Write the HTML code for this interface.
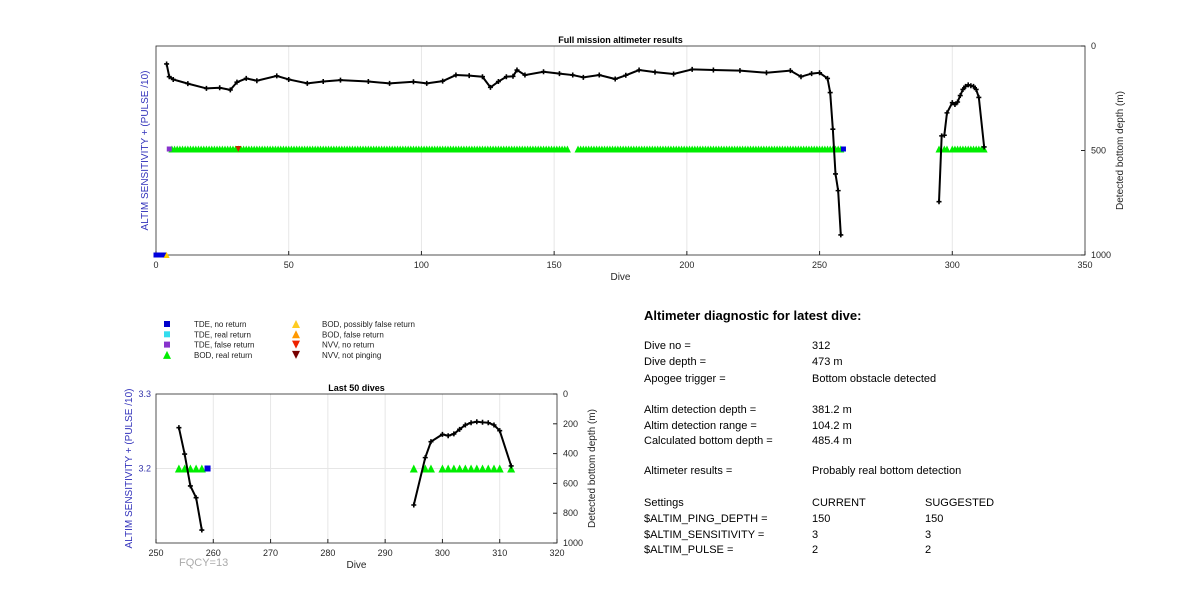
<!DOCTYPE html>
<html><head><meta charset="utf-8"><style>
body{margin:0;background:#fff;width:1200px;height:611px;overflow:hidden;font-family:"Liberation Sans",Arial,sans-serif}
svg{position:absolute;left:0;top:0}
.t{font-size:11px;fill:#000}
.tk{font-size:9px;fill:#262626}
</style></head><body>
<svg id="chart" width="1200" height="611" xmlns="http://www.w3.org/2000/svg"></svg>
<script>
// ---- Top chart data ----
const topDepthDives = [4,5,6.5,12,19,24,28,30.5,34,38,45.5,50,57,63,69.5,80,88,97,102,108,113,118,123,126,129,132,134.5,136,139,146,152,157,161,167,173,177,182,188,195,202,210,220,230,239,243,247,250,253,254,255,256,257,258];
const topDepthVals  = [86,147,160,180,203,200,210,173,155,166,143,160,179,170,163,170,179,171,179,168,139,142,147,198,170,147,145,115,139,123,132,139,150,139,158,140,115,125,134,112,115,118,128,118,147,132,128,155,223,398,612,692,904];
const topDepthDives2 = [295,296,297,298,300,301,302,303,304,305,306,307,308,309,310,312];
const topDepthVals2  = [745,430,427,320,271,280,268,237,208,193,186,190,193,208,246,483];
const bodRanges = [[6,155],[159,258],[295,295],[297,298],[300,312]];
const tdeNoReturnDives = [0,1,2,3,259];
const tdeNoReturnVals = [0,0,0,0,3.2];
const tdeFalseDives = [5]; const tdeFalseVals=[3.2];
const bodPossFalseDives=[4]; const bodPossFalseVals=[0];
const nvvNoReturnDives=[31]; const nvvNoReturnVals=[3.2];
const topXTicks=[0,50,100,150,200,250,300,350];
const topYTicks=[0,500,1000];
// ---- Bottom chart data ----
const botDepthDivesA=[254,255,256,257,258];
const botDepthValsA=[226,403,617,696,913];
const botDepthDivesB=[295,297,298,300,301,302,303,304,305,306,307,308,309,310,312];
const botDepthValsB=[745,427,320,271,280,268,237,208,193,186,190,193,208,246,483];
const botBodDives=[254,255,256,257,258,295,297,298,300,301,302,303,304,305,306,307,308,309,310,312];
const botBodVals=[3.2,3.2,3.2,3.2,3.2,3.2,3.2,3.2,3.2,3.2,3.2,3.2,3.2,3.2,3.2,3.2,3.2,3.2,3.2,3.2];
const botTdeDives=[259]; const botTdeVals=[3.2];
const botXTicks=[250,260,270,280,290,300,310,320];
const botYTicks=[0,200,400,600,800,1000];
const botLTicks=[3.2,3.3];

const S=document.getElementById('chart');const NS='http://www.w3.org/2000/svg';
function mk(tag,at,parent,txt){const e=document.createElementNS(NS,tag);for(const k in at)e.setAttribute(k,at[k]);if(txt!==undefined)e.textContent=txt;(parent||S).appendChild(e);return e;}
function tri(g,x,y,s,col,down){const p=down?`${x-s},${y-s} ${x+s},${y-s} ${x},${y+s}`:`${x-s},${y+s} ${x+s},${y+s} ${x},${y-s}`;return mk('polygon',{points:p,fill:col},g);}
function plus(g,x,y){mk('path',{d:`M${x-2.5},${y}H${x+2.5}M${x},${y-2.5}V${y+2.5}`,stroke:'#000','stroke-width':1.6},g);}

function panel(o){
 const g=mk('g',{});
 const X=d=>o.x0+(d-o.xmin)/(o.xmax-o.xmin)*(o.x1-o.x0);
 const YD=v=>o.y0+v/1000*(o.y1-o.y0);
 const YL=v=>o.y1-(v-o.lmin)/(o.lmax-o.lmin)*(o.y1-o.y0);
 o.xt.forEach(t=>{if(t>o.xmin&&t<o.xmax){const l=mk('line',{x1:X(t),x2:X(t),y1:o.y0,y2:o.y1,stroke:'#e6e6e6'},g);}});
 if(o.hgrid)o.hgrid.forEach(v=>{mk('line',{x1:o.x0,x2:o.x1,y1:YL(v),y2:YL(v),stroke:'#e6e6e6'},g);});
 const ax=mk('rect',{x:o.x0,y:o.y0,width:o.x1-o.x0,height:o.y1-o.y0,fill:'none',stroke:'#262626','stroke-width':0.8},g);
 
 o.xt.forEach(t=>{const e=mk('text',{x:X(t),y:o.y1+13,'text-anchor':'middle',class:'tk'},g,t);mk('line',{x1:X(t),x2:X(t),y1:o.y1,y2:o.y1-4,stroke:'#262626'},g);});
 o.yt.forEach(t=>{const e=mk('text',{x:o.x1+6,y:YD(t)+3,class:'tk'},g,t);mk('line',{x1:o.x1,x2:o.x1-4,y1:YD(t),y2:YD(t),stroke:'#262626'},g);});
 if(o.lt)o.lt.forEach(t=>{const e=mk('text',{x:o.x0-5,y:YL(t)+3,'text-anchor':'end',class:'tk',fill:'#3333aa',style:'fill:#3333aa'},g,t.toFixed(1));});
 // BOD markers
 const mg=mk('g',{},g);
 o.bod.forEach(([d,v])=>{const t=tri(mg,X(d),YL(v),o.ms,'#00ee00',false);});
 o.sq.forEach(([d,v,c])=>{const r=mk('rect',{x:X(d)-o.ms+1,y:YL(v)-o.ms+1,width:2*o.ms-2,height:2*o.ms-2,fill:c},g);});
 (o.tris||[]).forEach(([d,v,c,dn])=>{const t=tri(g,X(d),YL(v),o.ms-0.5,c,dn);});
 o.lines.forEach(([ds,vs])=>{const pts=ds.map((d,i)=>X(d)+','+YD(vs[i])).join(' ');const pl=mk('polyline',{points:pts,fill:'none',stroke:'#000','stroke-width':2},g);ds.forEach((d,i)=>plus(g,X(d),YD(vs[i])));});
 const tt=mk('text',{x:(o.x0+o.x1)/2,y:o.y0-3,'text-anchor':'middle',style:'font-size:9px;font-weight:bold'},g,o.title);
 const xl=mk('text',{x:(o.x0+o.x1)/2,y:o.y1+25,'text-anchor':'middle',class:'tk',style:'font-size:10px'},g,'Dive');
 const rx=o.x1+o.rlab,ry=(o.y0+o.y1)/2;const rl=mk('text',{x:rx,y:ry,'text-anchor':'middle',transform:`rotate(-90 ${rx} ${ry})`,class:'tk',style:'font-size:10px'},g,'Detected bottom depth (m)');
 const lx=o.x0-o.llab;const ll=mk('text',{x:lx,y:ry,'text-anchor':'middle',transform:`rotate(-90 ${lx} ${ry})`,style:'font-size:10px;fill:#3333bb'},g,'ALTIM SENSITIVITY + (PULSE /10)');
 return g;
}
const topBod=[];bodRanges.forEach(([a,b])=>{for(let d=a;d<=b;d++)topBod.push([d,3.2]);});
panel({name:'full-mission-chart',title:'Full mission altimeter results',x0:156,x1:1085,y0:46,y1:255,xmin:0,xmax:350,lmin:0,lmax:6.31,xt:topXTicks,yt:topYTicks,ms:3.5,rlab:38,llab:8,
 bod:topBod,
 sq:tdeNoReturnDives.map((d,i)=>[d,tdeNoReturnVals[i],'#0000dd']).concat(tdeFalseDives.map((d,i)=>[d,tdeFalseVals[i],'#8833cc'])),
 tris:bodPossFalseDives.map((d,i)=>[d,bodPossFalseVals[i],'#ffcc00',false]).concat(nvvNoReturnDives.map((d,i)=>[d,nvvNoReturnVals[i],'#cc2200',true])),
 lines:[[topDepthDives,topDepthVals],[topDepthDives2,topDepthVals2]]});
panel({name:'last-50-dives-chart',title:'Last 50 dives',x0:156,x1:557,y0:394,y1:543,xmin:250,xmax:320,lmin:3.1,lmax:3.3,xt:botXTicks,yt:botYTicks,lt:botLTicks,hgrid:[3.2],ms:4,rlab:38,llab:24,
 bod:botBodDives.map((d,i)=>[d,botBodVals[i]]),
 sq:botTdeDives.map((d,i)=>[d,botTdeVals[i],'#0000dd']),
 lines:[[botDepthDivesA,botDepthValsA],[botDepthDivesB,botDepthValsB]]});
const fq=mk('text',{x:179,y:566,style:'font-size:11px;fill:#aaaaaa'},S,'FQCY=13');

// legend
const lg=mk('g',{});
const legL=[['sq','#0000cc','TDE, no return'],['sq','#33ddee','TDE, real return'],['sq','#8833cc','TDE, false return'],['up','#00ee00','BOD, real return']];
const legR=[['up','#ffcc22','BOD, possibly false return'],['up','#ff9900','BOD, false return'],['dn','#ee2200','NVV, no return'],['dn','#770000','NVV, not pinging']];
[[legL,167,194],[legR,296,322]].forEach(([arr,mx,tx])=>arr.forEach(([k,c,l],i)=>{const y=324+i*10.3;const e=mk('g',{},lg);
 if(k==='sq')mk('rect',{x:mx-3,y:y-3,width:6,height:6,fill:c},e);else tri(e,mx,y,4,c,k==='dn');
 mk('text',{x:tx,y:y+3,style:'font-size:8px;fill:#222'},e,l);}));

// diagnostics
const dg=mk('g',{});
const h=mk('text',{x:644,y:320,style:'font-size:13px;font-weight:bold'},dg,'Altimeter diagnostic for latest dive:');
const rows=[[349,'Dive no =','312'],[365,'Dive depth =','473 m'],[382,'Apogee trigger =','Bottom obstacle detected'],[413,'Altim detection depth =','381.2 m'],[429,'Altim detection range =','104.2 m'],[444,'Calculated bottom depth =','485.4 m'],[474,'Altimeter results =','Probably real bottom detection'],[506,'Settings','CURRENT','SUGGESTED'],[522,'$ALTIM_PING_DEPTH =','150','150'],[538,'$ALTIM_SENSITIVITY =','3','3'],[553,'$ALTIM_PULSE =','2','2']];
rows.forEach(([y,a,b,c])=>{const r=mk('g',{},dg);mk('text',{x:644,y:y,class:'t'},r,a);mk('text',{x:812,y:y,class:'t'},r,b);if(c)mk('text',{x:925,y:y,class:'t'},r,c);});
</script>
</body></html>
